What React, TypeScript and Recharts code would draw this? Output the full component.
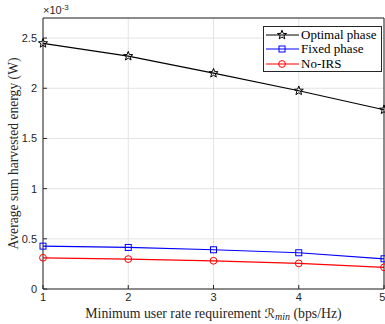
import { LineChart, Line, XAxis, YAxis, CartesianGrid } from "recharts";

// values in units of 1e-3 W
const rates = [1, 2, 3, 4, 5];
const optimalPhase = [2.448, 2.32, 2.15, 1.975, 1.786];
const fixedPhase = [0.427, 0.414, 0.391, 0.361, 0.301];
const noIrs = [0.311, 0.298, 0.281, 0.255, 0.216];
const xTicks = [1, 2, 3, 4, 5];
const yTicks = [0, 0.5, 1, 1.5, 2, 2.5];

const data = rates.map((r, i) => ({
  rate: r,
  optimal: optimalPhase[i],
  fixed: fixedPhase[i],
  noIrs: noIrs[i],
}));

const axisColor = "#262626";
const serif = "'Liberation Serif', 'Times New Roman', serif";
const sans = "'Liberation Sans', Arial, sans-serif";

function starPath(cx: number, cy: number, R: number, r: number) {
  const pts: string[] = [];
  for (let k = 0; k < 10; k++) {
    const a = -Math.PI / 2 + (k * Math.PI) / 5;
    const rad = k % 2 === 0 ? R : r;
    pts.push(`${(cx + rad * Math.cos(a)).toFixed(2)},${(cy + rad * Math.sin(a)).toFixed(2)}`);
  }
  return "M" + pts.join("L") + "Z";
}

const StarDot = (props: any) => {
  const { cx, cy, index } = props;
  return <path key={index} d={starPath(cx, cy, 4.8, 2)} fill="none" stroke="#000" strokeWidth={1} />;
};
const SquareDot = (props: any) => {
  const { cx, cy, index } = props;
  return <rect key={index} x={cx - 3} y={cy - 3} width={6} height={6} fill="none" stroke="#0000ff" strokeWidth={1} />;
};
const CircleDot = (props: any) => {
  const { cx, cy, index } = props;
  return <circle key={index} cx={cx} cy={cy} r={3.4} fill="none" stroke="#ff0000" strokeWidth={1} />;
};

const legendItems = [
  { label: "Optimal phase", color: "#000", shape: "star" },
  { label: "Fixed phase", color: "#0000ff", shape: "square" },
  { label: "No-IRS", color: "#ff0000", shape: "circle" },
];

function LegendBox() {
  return (
    <div
      style={{
        position: "absolute",
        left: 263,
        top: 26,
        width: 119,
        height: 46,
        boxSizing: "border-box",
        border: `1px solid ${axisColor}`,
        background: "#fff",
        padding: "1px 0 0 2px",
        fontFamily: serif,
        fontSize: 13,
        color: "#000",
        lineHeight: "14px",
      }}
    >
      {legendItems.map((it) => (
        <div key={it.label} style={{ display: "flex", alignItems: "center", height: 14.3 }}>
          <svg width={33} height={14} style={{ marginRight: 2 }}>
            <line x1={0} y1={7} x2={33} y2={7} stroke={it.color} strokeWidth={1.2} />
            {it.shape === "star" && <path d={starPath(16, 7, 4.8, 2)} fill="none" stroke={it.color} />}
            {it.shape === "square" && <rect x={13} y={4} width={6} height={6} fill="none" stroke={it.color} />}
            {it.shape === "circle" && <circle cx={16} cy={7} r={3.4} fill="none" stroke={it.color} />}
          </svg>
          <span>{it.label}</span>
        </div>
      ))}
    </div>
  );
}

const XLabel = (props: any) => {
  const vb = props.viewBox;
  return (
    <text x={vb.x + vb.width / 2} y={vb.y + 29} textAnchor="middle" fontFamily={serif} fontSize={13.8} fill={axisColor}>
      Minimum user rate requirement{" "}
      <tspan fontFamily="'DejaVu Sans', sans-serif" fontStyle="italic" fontSize={13}>ℛ</tspan>
      <tspan fontSize={10} fontStyle="italic" dy={2}>min</tspan>
      <tspan dy={-2}> (bps/Hz)</tspan>
    </text>
  );
};

const YLabel = (props: any) => {
  const vb = props.viewBox;
  const cy = vb.y + vb.height / 2;
  return (
    <text x={13} y={cy} transform={`rotate(-90 13 ${cy})`} textAnchor="middle" dominantBaseline="central" fontFamily={serif} fontSize={13.6} fill={axisColor}>
      Average sum harvested energy (W)
    </text>
  );
};

export default function App() {
  return (
    <div style={{ position: "absolute", left: 0, top: 0, width: 385, height: 324, background: "#fff" }}>
      <LineChart width={385} height={324} data={data} margin={{ top: 0, right: 0, bottom: 0, left: 0 }}>
        <CartesianGrid stroke="#e3e3e3" strokeWidth={1} xAxisId="bottom" yAxisId="left" />
        <XAxis
          xAxisId="bottom"
          dataKey="rate"
          type="number"
          domain={[1, 5]}
          ticks={xTicks}
          height={35}
          stroke={axisColor}
          tickSize={-4}
          tickMargin={8}
          tick={{ fontFamily: sans, fontSize: 11, fill: axisColor }}
          label={<XLabel />}
        />
        <XAxis
          xAxisId="top"
          orientation="top"
          dataKey="rate"
          type="number"
          domain={[1, 5]}
          ticks={xTicks}
          height={18}
          stroke={axisColor}
          tickSize={-4}
          tick={false}
        />
        <YAxis
          yAxisId="left"
          type="number"
          domain={[0, 2.7]}
          ticks={yTicks}
          width={43}
          stroke={axisColor}
          tickSize={-4}
          tickMargin={10}
          tick={{ fontFamily: sans, fontSize: 11, fill: axisColor }}
          label={<YLabel />}
        />
        <YAxis
          yAxisId="right"
          orientation="right"
          type="number"
          domain={[0, 2.7]}
          ticks={yTicks}
          width={1}
          stroke={axisColor}
          tickSize={-4}
          tick={false}
        />
        <Line xAxisId="bottom" yAxisId="left" dataKey="optimal" stroke="#000" strokeWidth={1.2} dot={<StarDot />} isAnimationActive={false} />
        <Line xAxisId="bottom" yAxisId="left" dataKey="fixed" stroke="#0000ff" strokeWidth={1.2} dot={<SquareDot />} isAnimationActive={false} />
        <Line xAxisId="bottom" yAxisId="left" dataKey="noIrs" stroke="#ff0000" strokeWidth={1.2} dot={<CircleDot />} isAnimationActive={false} />
      </LineChart>
      <LegendBox />
      <div style={{ position: "absolute", left: 43, top: 3, fontFamily: sans, fontSize: 11, color: axisColor }}>
        ×10<sup style={{ fontSize: 8, verticalAlign: "4px" }}>-3</sup>
      </div>
    </div>
  );
}
